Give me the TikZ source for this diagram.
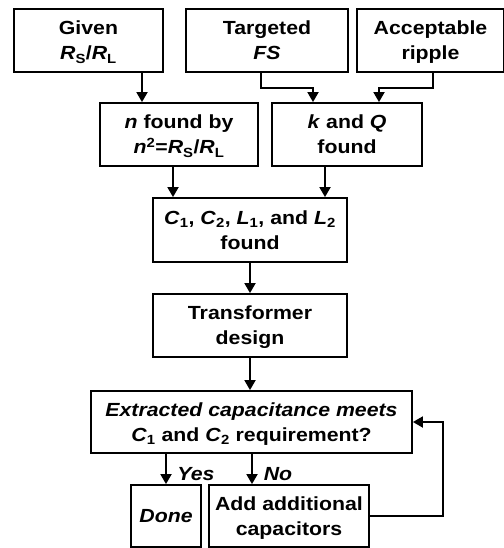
\documentclass[tikz,border=0pt]{standalone}
\usepackage{fontspec}
\setmainfont{Liberation Sans}[FakeStretch=1.12]
\usetikzlibrary{arrows.meta}

\begin{document}
\begin{tikzpicture}[x=1pt,y=-1pt,
	block/.style={draw, line width=1.8pt, align=center, inner sep=0pt, text depth=0pt, font=\fontsize{19}{25}\selectfont\bfseries},
	link/.style={line width=1.8pt, -{Triangle[length=10pt,width=11pt]}},
	lbl/.style={font=\fontsize{19}{25}\selectfont\bfseries\itshape}]
	\useasboundingbox (0,0) rectangle (503,548);
	% inputs
	\node [block, minimum width=149, minimum height=63] (given) at (88.5,40.5) {Given\\\textit{R}\textsubscript{S}/\textit{R}\textsubscript{L}};
	\node [block, minimum width=162, minimum height=63] (tgt) at (267,40.5) {Targeted\\\textit{FS}};
	\node [block, minimum width=147, minimum height=63] (ripple) at (430.5,40.5) {Acceptable\\ripple};
	% second row
	\node [block, minimum width=158, minimum height=63] (n) at (179,134.5) {\textit{n} found by\\\textit{n}\textsuperscript{2}=\textit{R}\textsubscript{S}/\textit{R}\textsubscript{L}};
	\node [block, minimum width=150, minimum height=63] (k) at (347,134.5) {\textit{k} and \textit{Q}\\found};
	% main chain
	\node [block, minimum width=194, minimum height=64] (lc) at (250,230) {\textit{C}\textsubscript{1}, \textit{C}\textsubscript{2}, \textit{L}\textsubscript{1}, and \textit{L}\textsubscript{2}\\found};
	\node [block, minimum width=194, minimum height=63] (xfmr) at (250,325.5) {Transformer\\design};
	\node [block, minimum width=321, minimum height=62] (ext) at (251.5,422) {\textit{Extracted capacitance meets}\\\textit{C}\textsubscript{1} and \textit{C}\textsubscript{2} requirement?};
	\node [block, minimum width=70, minimum height=62] (done) at (166,516) {\textit{Done}};
	\node [block, minimum width=160, minimum height=62] (add) at (289,516) {Add additional\\capacitors};
	\node [lbl] (yes) at (196,474) {Yes};
	\node [lbl] (no) at (278,474) {No};

	\coordinate (g1) at ([xshift=-37]n.north);
	\coordinate (t1) at ([xshift=-34]k.north);
	\coordinate (r1) at ([xshift=32]k.north);
	\coordinate (n1) at ([xshift=-77]lc.north);
	\coordinate (k1) at ([xshift=75]lc.north);
	\coordinate (a1) at ([xshift=-37]add.north);

	\draw [link] (g1 |- given.south) -- (g1);
	\draw [link] ([xshift=-6]tgt.south) -- ++(0,15) -| (t1);
	\draw [link] ([xshift=2.5]ripple.south) -- ++(0,15) -| (r1);
	\draw [link] (n1 |- n.south) -- (n1);
	\draw [link] (k1 |- k.south) -- (k1);
	\draw [link] (lc) ++(0,32) -- (xfmr.north);
	\draw [link] (xfmr.south) -- (xfmr.south |- ext.north);
	\draw [link] (done.north |- ext.south) -- (done.north);
	\draw [link] (a1 |- ext.south) -- (a1);
	\draw [link] (add.east) -- ++(73,0) |- (ext.east);
\end{tikzpicture}
\end{document}
